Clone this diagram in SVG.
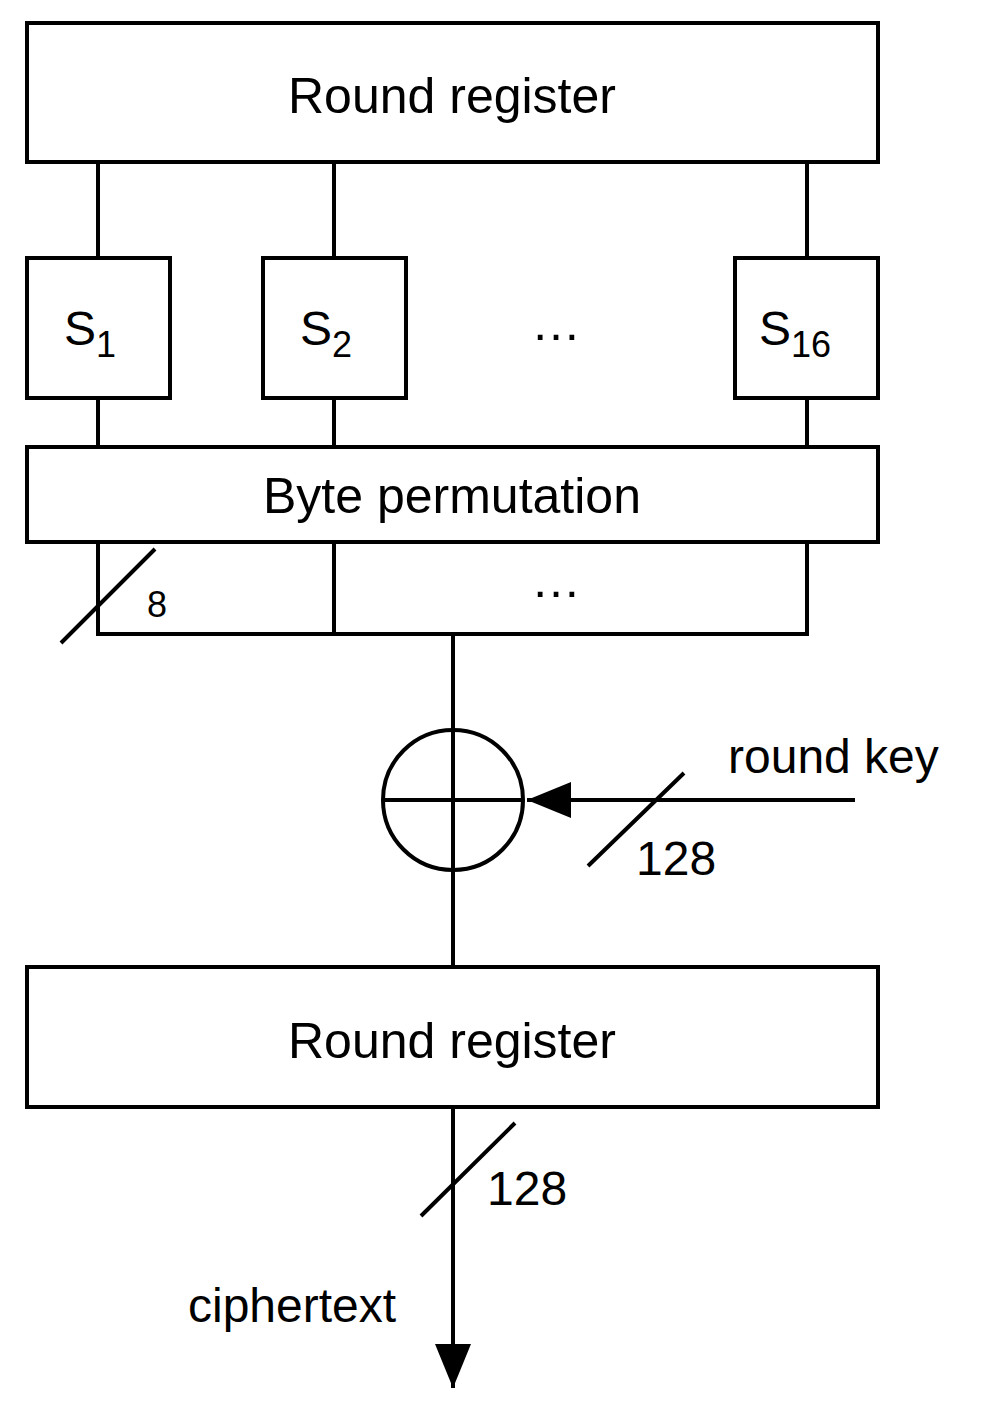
<svg xmlns="http://www.w3.org/2000/svg" width="999" height="1405" viewBox="0 0 999 1405">
<style>
.b{fill:#fff;stroke:#000;stroke-width:4}
.l{fill:none;stroke:#000;stroke-width:4}
text{font-family:"Liberation Sans",Arial,sans-serif;fill:#000}
.t{font-size:50px;text-anchor:middle}
.s{font-size:36px}
</style>
<defs><marker id="a" markerUnits="userSpaceOnUse" markerWidth="46" markerHeight="40" refX="44" refY="20" orient="auto"><path d="M0,2 L44,20 L0,38 Z" fill="#000"/></marker></defs>
<g id="connectors">
<path class="l" d="M98,162V258M334,162V258M807,162V258M98,398V447M334,398V447M807,398V447M98,542V634M334,542V634M807,542V634M96,634H809M453,634V965"/>
<path class="l" d="M61,643L155,549M588,866L684,773M421,1216L515,1123"/>
<path class="l" d="M855,800H527" marker-end="url(#a)"/>
<path class="l" d="M453,1107V1388" marker-end="url(#a)"/>
</g>
<g id="reg1"><rect class="b" x="27" y="23" width="851" height="139"/><text class="t" x="452" y="113">Round register</text></g>
<g id="s1"><rect class="b" x="27" y="258" width="143" height="140"/><text x="64" y="345" font-size="48">S<tspan font-size="36" dy="12">1</tspan></text></g>
<g id="s2"><rect class="b" x="263" y="258" width="143" height="140"/><text x="300" y="345" font-size="48">S<tspan font-size="36" dy="12">2</tspan></text></g>
<g id="dots1"><text class="t" x="556" y="340">…</text></g>
<g id="s16"><rect class="b" x="735" y="258" width="143" height="140"/><text x="759" y="345" font-size="48">S<tspan font-size="36" dy="12">16</tspan></text></g>
<g id="perm"><rect class="b" x="27" y="447" width="851" height="95"/><text class="t" x="452" y="513">Byte permutation</text></g>
<text class="s" x="147" y="617" font-size="40">8</text>
<text class="t" x="556" y="597">…</text>
<g id="xor"><circle class="l" cx="453" cy="800" r="70"/><path class="l" d="M383,800H523"/></g>
<text x="728" y="773" font-size="48">round key</text>
<text x="636" y="875" font-size="48">128</text>
<g id="reg2"><rect class="b" x="27" y="967" width="851" height="140"/><text class="t" x="452" y="1058">Round register</text></g>
<text x="487" y="1205" font-size="48">128</text>
<text x="188" y="1322" font-size="48">ciphertext</text>
</svg>
